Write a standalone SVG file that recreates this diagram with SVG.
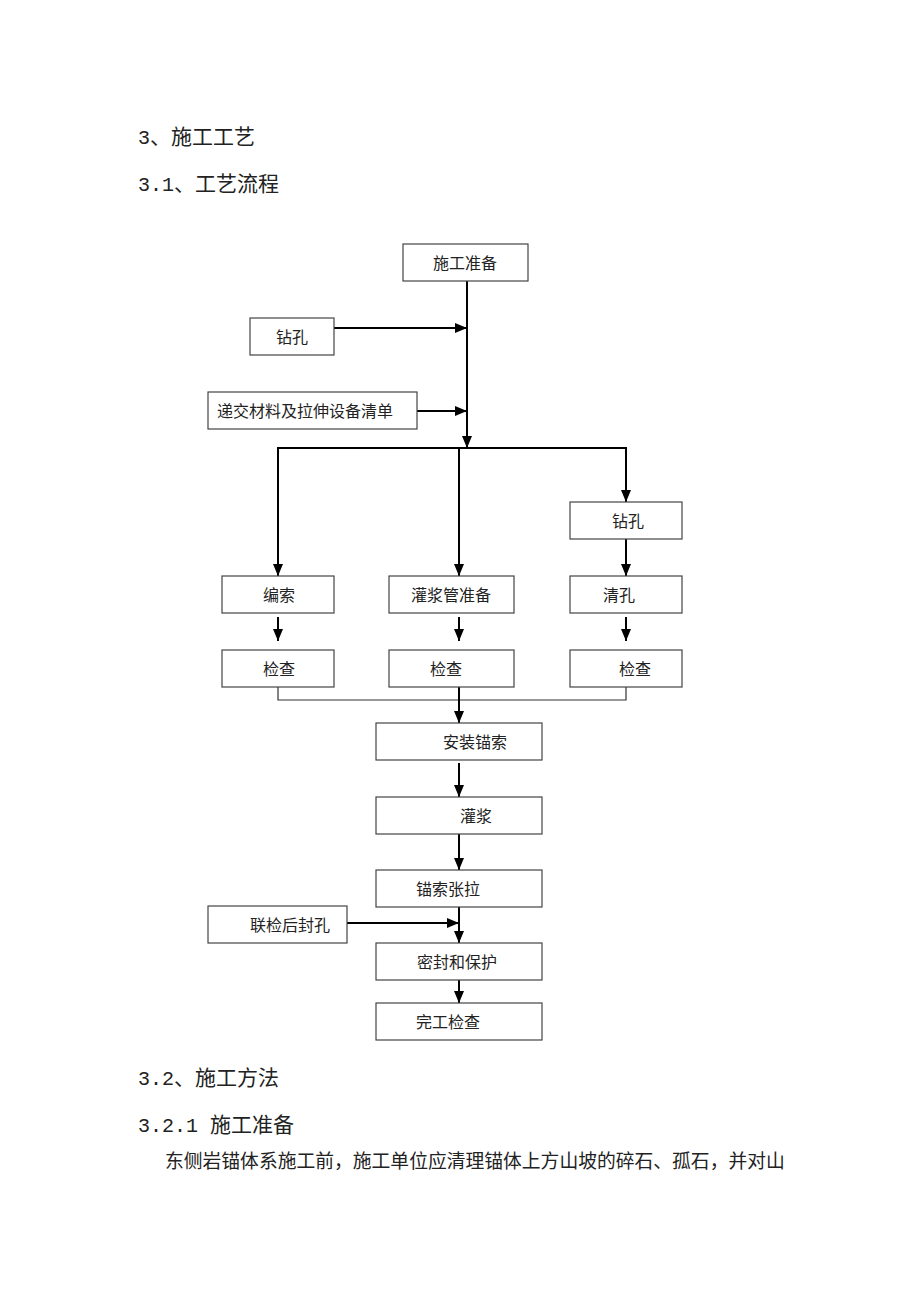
<svg xmlns="http://www.w3.org/2000/svg" width="920" height="1302" viewBox="0 0 920 1302">
<defs>
<marker id="ah" markerUnits="userSpaceOnUse" markerWidth="12" markerHeight="10" refX="12" refY="5" orient="auto">
<path d="M0,0 L12,5 L0,10 Z" fill="#000"/>
</marker>
<style>
.t{font-family:"Liberation Serif","Noto Sans CJK SC",serif;fill:#222;}
.m{font-family:"Liberation Mono",monospace;font-size:20px;}
.h{font-size:21px;}
.b{font-size:18.8px;}
.n{font-family:"Noto Sans CJK SC",sans-serif;font-size:16px;fill:#222;}
rect{fill:#fff;stroke:#444;stroke-width:1.2;}
.c{stroke:#000;stroke-width:2;fill:none;}
.a{stroke:#000;stroke-width:2;fill:none;marker-end:url(#ah);}
.thin{stroke:#333;stroke-width:1.2;fill:none;}
</style>
</defs>
<rect x="0" y="0" width="920" height="1302" style="fill:#fff;stroke:none"/>
<g id="headings">
<text class="t h" x="138" y="144"><tspan class="m">3</tspan>、施工工艺</text>
<text class="t h" x="138" y="191"><tspan class="m">3.1</tspan>、工艺流程</text>
<text class="t h" x="138" y="1085"><tspan class="m">3.2</tspan>、施工方法</text>
<text class="t h" x="138" y="1132"><tspan class="m">3.2.1 </tspan>施工准备</text>
<text class="t b" x="165" y="1168">东侧岩锚体系施工前，施工单位应清理锚体上方山坡的碎石、孤石，并对山</text>
</g>
<g id="connectors">
<line class="a" x1="467" y1="281" x2="467" y2="448"/>
<line class="a" x1="334" y1="328" x2="467" y2="328"/>
<line class="a" x1="417" y1="411" x2="467" y2="411"/>
<line class="c" x1="277" y1="448" x2="627" y2="448"/>
<line class="a" x1="278" y1="448" x2="278" y2="576"/>
<line class="a" x1="459" y1="448" x2="459" y2="576"/>
<line class="a" x1="626" y1="448" x2="626" y2="502"/>
<line class="a" x1="626" y1="539" x2="626" y2="576"/>
<line class="a" x1="278" y1="617" x2="278" y2="641"/>
<line class="a" x1="459" y1="617" x2="459" y2="641"/>
<line class="a" x1="626" y1="617" x2="626" y2="641"/>
<polyline class="thin" points="278,687 278,700 626,700 626,687"/>
<line class="a" x1="459" y1="687" x2="459" y2="723"/>
<line class="a" x1="459" y1="763" x2="459" y2="797"/>
<line class="a" x1="459" y1="834" x2="459" y2="870"/>
<line class="a" x1="459" y1="907" x2="459" y2="943"/>
<line class="a" x1="347" y1="923" x2="459" y2="923"/>
<line class="a" x1="459" y1="980" x2="459" y2="1003"/>
</g>
<g id="n-prep"><rect x="403" y="244" width="125" height="37"/><text class="n" x="465" y="269" text-anchor="middle">施工准备</text></g>
<g id="n-drill1"><rect x="250" y="318" width="84" height="37"/><text class="n" x="292" y="343" text-anchor="middle">钻孔</text></g>
<g id="n-submit"><rect x="208" y="392" width="209" height="37"/><text class="n" x="217" y="417">递交材料及拉伸设备清单</text></g>
<g id="n-drill2"><rect x="570" y="502" width="112" height="37"/><text class="n" x="628" y="527" text-anchor="middle">钻孔</text></g>
<g id="n-weave"><rect x="222" y="576" width="112" height="37"/><text class="n" x="279" y="601" text-anchor="middle">编索</text></g>
<g id="n-pipe"><rect x="389" y="576" width="125" height="37"/><text class="n" x="451" y="601" text-anchor="middle">灌浆管准备</text></g>
<g id="n-clean"><rect x="570" y="576" width="112" height="37"/><text class="n" x="619" y="601" text-anchor="middle">清孔</text></g>
<g id="n-check1"><rect x="222" y="650" width="112" height="37"/><text class="n" x="279" y="675" text-anchor="middle">检查</text></g>
<g id="n-check2"><rect x="389" y="650" width="125" height="37"/><text class="n" x="446" y="675" text-anchor="middle">检查</text></g>
<g id="n-check3"><rect x="570" y="650" width="112" height="37"/><text class="n" x="635" y="675" text-anchor="middle">检查</text></g>
<g id="n-install"><rect x="376" y="723" width="166" height="37"/><text class="n" x="475" y="748" text-anchor="middle">安装锚索</text></g>
<g id="n-grout"><rect x="376" y="797" width="166" height="37"/><text class="n" x="476" y="822" text-anchor="middle">灌浆</text></g>
<g id="n-tension"><rect x="376" y="870" width="166" height="37"/><text class="n" x="448" y="895" text-anchor="middle">锚索张拉</text></g>
<g id="n-seal-after"><rect x="208" y="906" width="139" height="37"/><text class="n" x="290" y="931" text-anchor="middle">联检后封孔</text></g>
<g id="n-seal"><rect x="376" y="943" width="166" height="37"/><text class="n" x="457" y="968" text-anchor="middle">密封和保护</text></g>
<g id="n-final"><rect x="376" y="1003" width="166" height="37"/><text class="n" x="448" y="1028" text-anchor="middle">完工检查</text></g>
</svg>
